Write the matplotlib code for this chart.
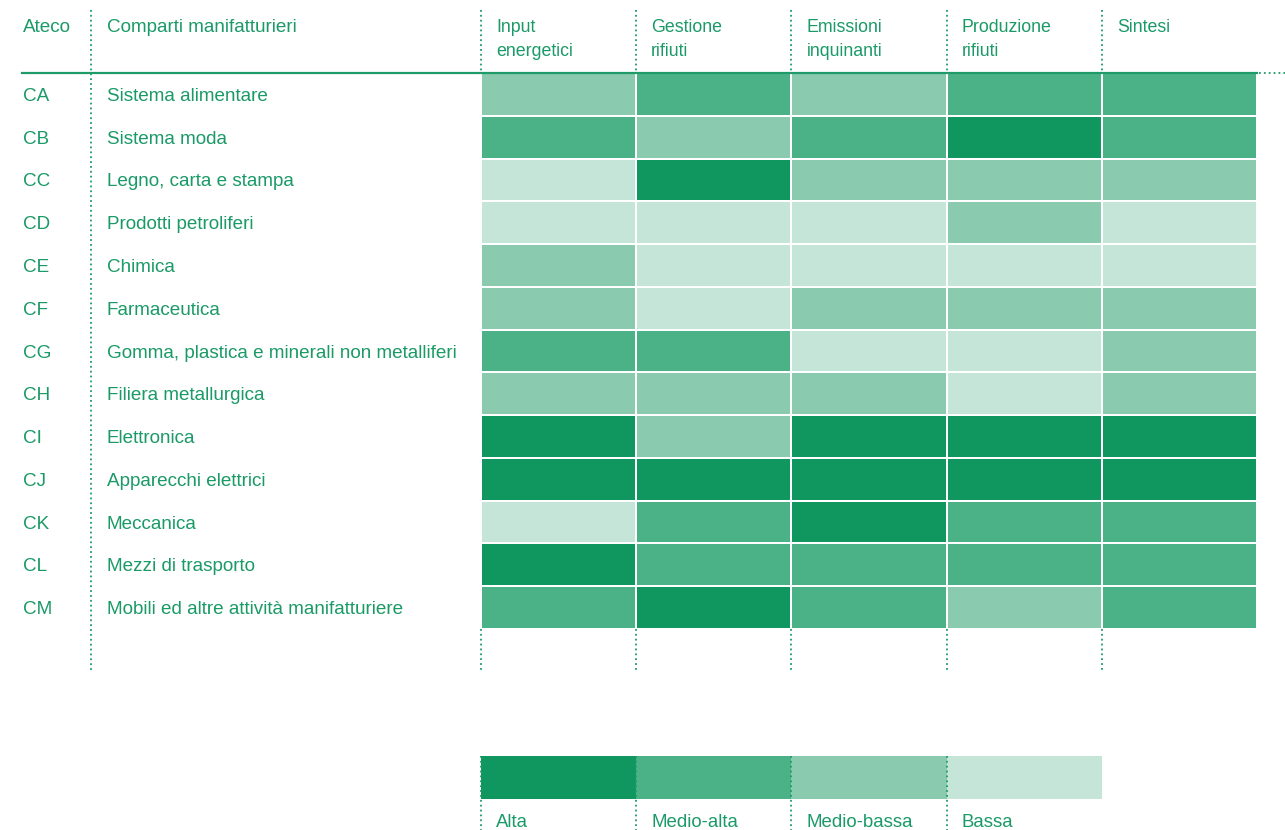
import matplotlib
matplotlib.use("Agg")
import matplotlib.pyplot as plt
from matplotlib import font_manager as fm
from matplotlib.colors import ListedColormap, BoundaryNorm
import numpy as np

# ---------------- data ----------------
codes = ["CA", "CB", "CC", "CD", "CE", "CF", "CG", "CH", "CI", "CJ", "CK", "CL", "CM"]
sectors = ["Sistema alimentare", "Sistema moda", "Legno, carta e stampa",
           "Prodotti petroliferi", "Chimica", "Farmaceutica",
           "Gomma, plastica e minerali non metalliferi", "Filiera metallurgica",
           "Elettronica", "Apparecchi elettrici", "Meccanica", "Mezzi di trasporto",
           "Mobili ed altre attività manifatturiere"]
columns = ["Input\nenergetici", "Gestione\nrifiuti", "Emissioni\ninquinanti",
           "Produzione\nrifiuti", "Sintesi"]
levels = ["Alta", "Medio-alta", "Medio-bassa", "Bassa"]
# 0 = Alta, 1 = Medio-alta, 2 = Medio-bassa, 3 = Bassa
input_energetici = [2, 1, 3, 3, 2, 2, 1, 2, 0, 0, 3, 0, 1]
gestione_rifiuti = [1, 2, 0, 3, 3, 3, 1, 2, 2, 0, 1, 1, 0]
emissioni_inquinanti = [2, 1, 2, 3, 3, 2, 3, 2, 0, 0, 0, 1, 1]
produzione_rifiuti = [1, 0, 2, 2, 3, 2, 3, 3, 0, 0, 1, 1, 2]
sintesi = [1, 1, 2, 3, 3, 2, 2, 2, 0, 0, 1, 1, 1]

# ---------------- style ----------------
level_colors = ["#10965f", "#4bb287", "#8acbb0", "#c4e5d7"]
green = "#1a9a66"
line_green = "#1f9a69"

names = [f.name for f in fm.fontManager.ttflist]
body_font = "Liberation Sans" if "Liberation Sans" in names else "DejaVu Sans"

fs = 13.6
fs_head = 12.8
fs_leg = 13.4

W, H = 1285, 830
fig = plt.figure(figsize=(W / 100, H / 100), dpi=100)
ax = fig.add_axes([0, 0, 1, 1])
ax.set_xlim(0, W)
ax.set_ylim(H, 0)
ax.axis("off")

# layout
x_code, x_name, x_div = 23, 107, 91
grid_left, grid_right = 481, 1257
grid_top, grid_bottom = 73, 629
ncols = len(columns)
nrows = len(codes)
col_w = (grid_right - grid_left) / ncols
row_h = (grid_bottom - grid_top) / nrows
xedges = grid_left + col_w * np.arange(ncols + 1)
yedges = grid_top + row_h * np.arange(nrows + 1)

matrix = np.array([input_energetici, gestione_rifiuti, emissioni_inquinanti,
                   produzione_rifiuti, sintesi]).T
cmap = ListedColormap(level_colors)
norm = BoundaryNorm(np.arange(-0.5, len(levels) + 0.5, 1), cmap.N)
ax.pcolormesh(xedges, yedges, matrix, cmap=cmap, norm=norm,
              edgecolors="white", linewidth=1.4, zorder=2)

dot = dict(color=line_green, linewidth=1.3, linestyle=(0, (1, 1.7)))

# header rule
ax.plot([22, grid_right], [grid_top, grid_top], color=line_green, lw=1.6, zorder=3)
ax.plot([grid_right + 2, W], [grid_top, grid_top], **dot)

# dotted dividers
ax.plot([x_div, x_div], [10, 670], **dot)
for xe in xedges[:-1]:
    ax.plot([xe, xe], [10, grid_top], **dot)
    ax.plot([xe, xe], [grid_bottom, 670], **dot)

ax.text(x_code, 32.5, "Ateco", color=green, fontsize=fs, family=body_font, va="baseline")
ax.text(x_name, 32.5, "Comparti manifatturieri", color=green, fontsize=fs,
        family=body_font, va="baseline")
for i, c in enumerate(columns):
    for j, line in enumerate(c.split("\n")):
        ax.text(xedges[i] + 15, 32 + 23.5 * j, line, color=green,
                fontsize=fs_head, family=body_font, va="baseline")

for r in range(nrows):
    yb = grid_top + row_h * (r + 0.5) + 6.5
    ax.text(x_code, yb, codes[r], color=green, fontsize=fs, family=body_font, va="baseline")
    ax.text(x_name, yb, sectors[r], color=green, fontsize=fs, family=body_font, va="baseline")

# legend
leg_top, leg_bot = 756, 799
leg_edges = grid_left + col_w * np.arange(len(levels) + 1)
ax.pcolormesh(leg_edges, [leg_top, leg_bot], np.arange(len(levels))[None, :],
              cmap=cmap, norm=norm, zorder=2)
for i, lv in enumerate(levels):
    ax.plot([leg_edges[i], leg_edges[i]], [leg_top, H], zorder=3, **dot)
    ax.text(leg_edges[i] + 15, 827, lv, color=green, fontsize=fs_leg,
            family=body_font, va="baseline")

fig.savefig("out.png", dpi=100)
